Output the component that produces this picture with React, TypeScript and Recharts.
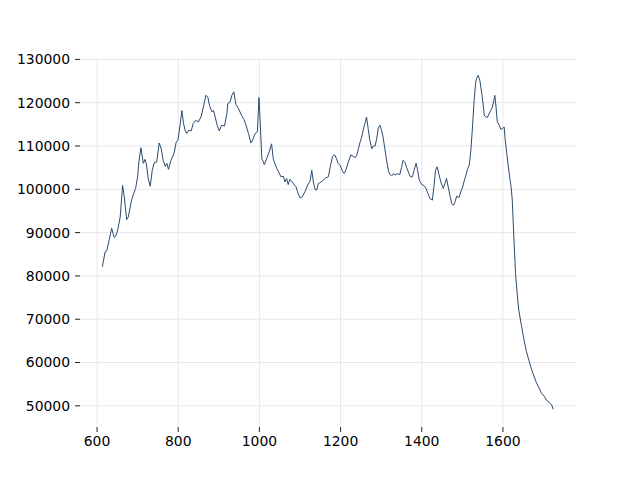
import { LineChart, Line, XAxis, YAxis, CartesianGrid } from "recharts";

const xValues = [
  613, 620, 624, 630, 636, 642, 646, 651, 657, 663, 667, 673, 677, 684, 689, 695, 700, 703, 708, 714,
  718, 722, 726, 731, 736, 741, 747, 753, 758, 763, 768, 772, 776, 782, 786, 790, 795, 799, 802, 809,
  813, 817, 821, 825, 832, 837, 843, 850, 856, 862, 868, 873, 877, 883, 887, 891, 896, 901, 907, 914,
  920, 922, 928, 932, 937, 942, 947, 951, 956, 962, 967, 973, 979, 984, 989, 995, 999, 1002, 1006, 1010,
  1012, 1018, 1024, 1030, 1034, 1038, 1043, 1048, 1053, 1059, 1063, 1067, 1071, 1075, 1081, 1086, 1090, 1094, 1100, 1106,
  1112, 1119, 1125, 1129, 1133, 1137, 1141, 1145, 1152, 1157, 1163, 1170, 1174, 1180, 1185, 1190, 1194, 1199, 1205, 1209,
  1213, 1219, 1225, 1230, 1236, 1240, 1244, 1248, 1252, 1256, 1260, 1264, 1268, 1272, 1277, 1281, 1285, 1289, 1293, 1297,
  1301, 1305, 1309, 1314, 1318, 1322, 1326, 1330, 1334, 1340, 1346, 1350, 1354, 1359, 1363, 1367, 1372, 1377, 1381, 1386,
  1389, 1394, 1400, 1405, 1410, 1414, 1420, 1426, 1430, 1434, 1438, 1442, 1447, 1453, 1457, 1461, 1465, 1470, 1474, 1478,
  1482, 1486, 1492, 1496, 1501, 1505, 1509, 1513, 1517, 1521, 1525, 1529, 1533, 1535, 1539, 1543, 1548, 1552, 1554, 1558,
  1562, 1566, 1570, 1574, 1578, 1580, 1583, 1586, 1591, 1595, 1599, 1603, 1605, 1609, 1613, 1617, 1620, 1623, 1625, 1628,
  1631, 1635, 1639, 1646, 1652, 1658, 1665, 1671, 1677, 1683, 1689, 1695, 1702, 1708, 1714, 1720, 1724,
];

const yValues = [
  82100, 85600, 85800, 88400, 91000, 88900, 89200, 90600, 93600, 100900, 98300, 93000, 93600, 97100, 98700, 100200, 102900, 106300, 109600, 106000,
  106900, 105600, 102500, 100700, 104400, 106200, 106300, 110700, 109400, 106700, 105300, 106000, 104600, 106700, 107500, 108400, 110900, 111300, 113000, 118200,
  115200, 113600, 112900, 113600, 113500, 115200, 115900, 115600, 116700, 119000, 121700, 121300, 119400, 117900, 118200, 116700, 114800, 113500, 114800, 114600,
  117500, 119800, 120200, 121700, 122500, 119600, 118900, 118100, 117100, 116100, 114800, 112900, 110700, 111500, 112800, 113300, 121200, 115500, 107000, 106300,
  105700, 107100, 108600, 110500, 107100, 106000, 104800, 103900, 102900, 103000, 101700, 102500, 101100, 102300, 101700, 101000, 100600, 99400, 98000, 98300,
  99400, 101000, 101900, 104400, 101700, 100000, 99800, 101300, 101700, 102100, 102600, 102900, 105000, 107500, 108000, 107100, 106000, 105500, 104100, 103700,
  104400, 106300, 107900, 107700, 107300, 107900, 109400, 110900, 112100, 113800, 115200, 116700, 114000, 111300, 109400, 110000, 110000, 111700, 114200, 114800,
  113600, 111900, 109400, 106300, 104200, 103400, 103100, 103600, 103300, 103600, 103400, 105000, 106700, 106200, 105000, 104000, 102900, 102900, 104400, 106000,
  104800, 102100, 101100, 100900, 100300, 99300, 97900, 97500, 100600, 104400, 105200, 103600, 101700, 100200, 101300, 102500, 100600, 98300, 96700, 96300,
  97100, 98400, 98100, 99400, 100600, 102100, 103300, 104800, 105600, 109000, 114400, 120500, 124800, 125600, 126300, 125200, 122100, 119000, 117100, 116700,
  116600, 117500, 118200, 119000, 120700, 121700, 119000, 115600, 114800, 113800, 114000, 114400, 112000, 108600, 105500, 102500, 100600, 97500, 92900, 86700,
  80600, 76000, 72100, 68300, 65200, 62500, 60200, 58300, 56700, 55200, 54100, 52900, 52200, 51200, 50800, 50200, 49200,
];

const xTicks = [600, 800, 1000, 1200, 1400, 1600];
const yTicks = [50000, 60000, 70000, 80000, 90000, 100000, 110000, 120000, 130000];
const xDomain = [558, 1780];
const yDomain = [45112, 130323];

const data = xValues.map((x, i) => ({ x, y: yValues[i] }));

const tickStyle = { fill: "#000", fontSize: 13.9, fontFamily: "DejaVu Sans" };

// grid only at the tick positions (no border lines round the plot area)
const vGrid = ({ offset }: any) =>
  xTicks.map((t) => offset.left + ((t - xDomain[0]) / (xDomain[1] - xDomain[0])) * offset.width);
const hGrid = ({ offset }: any) =>
  yTicks.map((t) => offset.top + ((yDomain[1] - t) / (yDomain[1] - yDomain[0])) * offset.height);

export default function App() {
  return (
    <div style={{ position: "absolute", left: 0, top: 0, width: 640, height: 480, background: "#fff" }}>
      <LineChart width={640} height={480} data={data} margin={{ top: 58, right: 64, bottom: 0, left: 0 }}>
        <CartesianGrid
          stroke="#e8e8e8"
          strokeWidth={1}
          verticalCoordinatesGenerator={vGrid}
          horizontalCoordinatesGenerator={hGrid}
        />
        <XAxis
          dataKey="x"
          type="number"
          domain={xDomain}
          ticks={xTicks}
          allowDataOverflow
          axisLine={false}
          tickLine={{ stroke: "#222" }}
          tickSize={5}
          tickMargin={4}
          height={53}
          tick={tickStyle}
        />
        <YAxis
          dataKey="y"
          type="number"
          domain={yDomain}
          ticks={yTicks}
          allowDataOverflow
          axisLine={false}
          tickLine={{ stroke: "#222" }}
          tickSize={5}
          tickMargin={5}
          width={80}
          tick={tickStyle}
        />
        <Line
          type="linear"
          dataKey="y"
          stroke="#2b4a6e"
          strokeWidth={1}
          dot={false}
          isAnimationActive={false}
        />
      </LineChart>
    </div>
  );
}
